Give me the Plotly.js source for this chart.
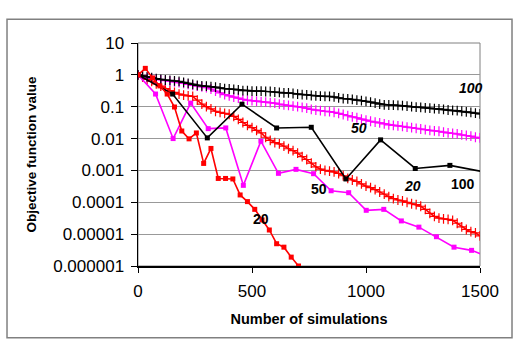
<!DOCTYPE html>
<html>
<head>
<meta charset="utf-8">
<script src="https://cdn.plot.ly/plotly-3.0.1.min.js"></script>
<style>html,body{margin:0;padding:0;background:#fff;}#chart{width:517px;height:340px;}</style>
</head>
<body>
<div id="chart"></div>
<script>
// ---- data ----
const xDense = [0,20,40,60,80,100,120,140,160,180,200,220,240,260,280,300,320,340,360,380,400,420,440,460,480,500,520,540,560,580,600,620,640,660,680,700,720,740,760,780,800,820,840,860,880,900,920,940,960,980,1000,1020,1040,1060,1080,1100,1120,1140,1160,1180,1200,1220,1240,1260,1280,1300,1320,1340,1360,1380,1400,1420,1440,1460,1480,1500];
const black100Dense = [1,0.93,0.87,0.81,0.76,0.72,0.69,0.67,0.65,0.62,0.58,0.54,0.5,0.47,0.45,0.44,0.43,0.41,0.39,0.37,0.36,0.35,0.34,0.32,0.32,0.31,0.31,0.31,0.30,0.30,0.29,0.28,0.27,0.27,0.26,0.25,0.24,0.235,0.225,0.22,0.215,0.21,0.21,0.205,0.19,0.18,0.175,0.17,0.16,0.155,0.148,0.14,0.13,0.12,0.115,0.113,0.112,0.11,0.108,0.105,0.1,0.097,0.095,0.092,0.09,0.087,0.085,0.082,0.079,0.077,0.075,0.072,0.069,0.066,0.063,0.06];
const magenta50Dense = [1,0.9,0.83,0.78,0.73,0.69,0.66,0.63,0.6,0.57,0.54,0.5,0.47,0.44,0.42,0.4,0.36,0.31,0.27,0.24,0.22,0.2,0.185,0.17,0.16,0.155,0.15,0.145,0.14,0.135,0.13,0.12,0.115,0.11,0.105,0.1,0.095,0.09,0.083,0.078,0.075,0.072,0.07,0.067,0.062,0.057,0.052,0.048,0.045,0.041,0.038,0.035,0.033,0.031,0.029,0.027,0.026,0.025,0.024,0.023,0.022,0.021,0.02,0.019,0.018,0.0175,0.017,0.016,0.015,0.0145,0.014,0.013,0.0125,0.012,0.011,0.0105];
const red20Dense = [1,0.85,0.72,0.62,0.52,0.44,0.37,0.32,0.28,0.25,0.23,0.22,0.21,0.16,0.12,0.1,0.085,0.072,0.066,0.062,0.058,0.05,0.04,0.032,0.026,0.022,0.018,0.015,0.011,0.0088,0.0075,0.0068,0.0058,0.0048,0.0042,0.0035,0.0027,0.0022,0.0017,0.0013,0.0011,0.001,0.00095,0.0009,0.0008,0.00068,0.00056,0.0005,0.00045,0.00038,0.00032,0.00029,0.00025,0.00021,0.00018,0.00015,0.00013,0.000118,0.00011,0.0001,0.00009,0.000085,0.000075,0.00006,0.000045,0.000036,0.000032,0.00003,0.000029,0.000027,0.000022,0.000017,0.000014,0.000012,0.000011,0.0000088];

const xBlackSq = [0,152,304,456,608,760,912,1064,1216,1368,1520];
const black100Sq = [1,0.25,0.0105,0.12,0.0215,0.0226,0.00054,0.0091,0.00115,0.00144,0.00089];

const xMagentaSq = [0,77,154,231,308,385,462,539,616,693,770,847,924,1001,1078,1155,1232,1309,1386,1463,1540];
const magenta50Sq = [1,0.25,0.01,0.13,0.0205,0.0216,0.00034,0.0083,0.00081,0.00108,0.00079,0.00023,0.0002,0.000056,0.00006,0.000026,0.0000166,0.0000083,0.0000039,0.0000031,0.0000019];

const xRedSq = [0,32,64,96,128,160,192,224,256,288,320,352,384,416,448,480,512,544,576,608,640,672,704];
const red20Sq = [1,1.6,0.8,0.45,0.25,0.098,0.0173,0.0098,0.015,0.00166,0.0049,0.00056,0.00056,0.00054,0.00017,0.000105,0.00006,0.000028,0.0000135,0.000005,0.0000039,0.0000019,0.000001];

const yTickVals = [0.000001,0.00001,0.0001,0.001,0.01,0.1,1,10];
const yTickText = ['0.000001','0.00001','0.0001','0.001','0.01','0.1','1','10'];
const xTickVals = [0,500,1000,1500];

// ---- traces ----
const RED = '#FF0000', MAG = '#FF00FF', BLK = '#000000';
function dense(x, y, c) {
  return {x: x, y: y, type: 'scatter', mode: 'lines+markers', cliponaxis: true,
    line: {color: c, width: 1.6},
    marker: {symbol: 'cross-thin', size: 7, color: c, line: {color: c, width: 1.2}}};
}
function sq(x, y, c) {
  return {x: x, y: y, type: 'scatter', mode: 'lines+markers', cliponaxis: true,
    line: {color: c, width: 1.6},
    marker: {symbol: 'square', size: 5, color: c}};
}
const data = [
  dense(xDense, red20Dense, RED),
  dense(xDense, magenta50Dense, MAG),
  dense(xDense, black100Dense, BLK),
  sq(xMagentaSq, magenta50Sq, MAG),
  sq(xBlackSq, black100Sq, BLK),
  sq(xRedSq, red20Sq, RED)
];

const F = 'Liberation Sans, Arial, sans-serif';
function lab(text, x, y, italic) {
  return {text: italic ? '<i>' + text + '</i>' : text, x: x, y: y, xref: 'x', yref: 'y',
    showarrow: false, font: {family: F, size: 14, color: '#000', weight: 'bold'}};
}
const layout = {
  width: 517, height: 340,
  margin: {l: 138, r: 37, t: 43, b: 73.5},
  paper_bgcolor: '#fff', plot_bgcolor: '#fff',
  showlegend: false,
  font: {family: F, color: '#000'},
  xaxis: {range: [0, 1500], tickvals: xTickVals, ticks: 'outside', ticklen: 5, tickcolor: '#000',
    showgrid: false, zeroline: false, showline: true, linecolor: '#000', linewidth: 1.5,
    tickfont: {family: F, size: 17}, ticklabelstandoff: 4,
    title: {text: '<b>Number of simulations</b>', font: {family: F, size: 14.5}, standoff: 14}},
  yaxis: {type: 'log', range: [-6, 1], tickvals: yTickVals, ticktext: yTickText, ticks: 'outside',
    ticklen: 6, tickcolor: '#000', showgrid: true, gridcolor: '#999', gridwidth: 1,
    zeroline: false, showline: true, linecolor: '#000', linewidth: 1.5,
    tickfont: {family: F, size: 17}, ticklabelstandoff: 3,
    title: {text: '<b>Objective function value</b>', font: {family: F, size: 13.5}, standoff: 13}},
  shapes: [
    {type: 'rect', xref: 'paper', yref: 'paper', x0: 0, x1: 1, y0: 0, y1: 1,
     line: {color: '#808080', width: 1}, layer: 'below'},
    {type: 'rect', xref: 'paper', yref: 'paper', x0: -0.383, x1: 1.0936, y0: -0.322, y1: 1.107,
     line: {color: '#808080', width: 1.5}, layer: 'below'}
  ],
  annotations: [
    lab('100', 1459, -0.41, true),
    lab('50', 969, -1.66, true),
    lab('20', 1203, -3.49, true),
    lab('100', 1425, -3.42, false),
    lab('50', 792, -3.59, false),
    lab('20', 538, -4.54, false)
  ]
};
Plotly.newPlot('chart', data, layout, {displayModeBar: false, staticPlot: true});
</script>
</body>
</html>
